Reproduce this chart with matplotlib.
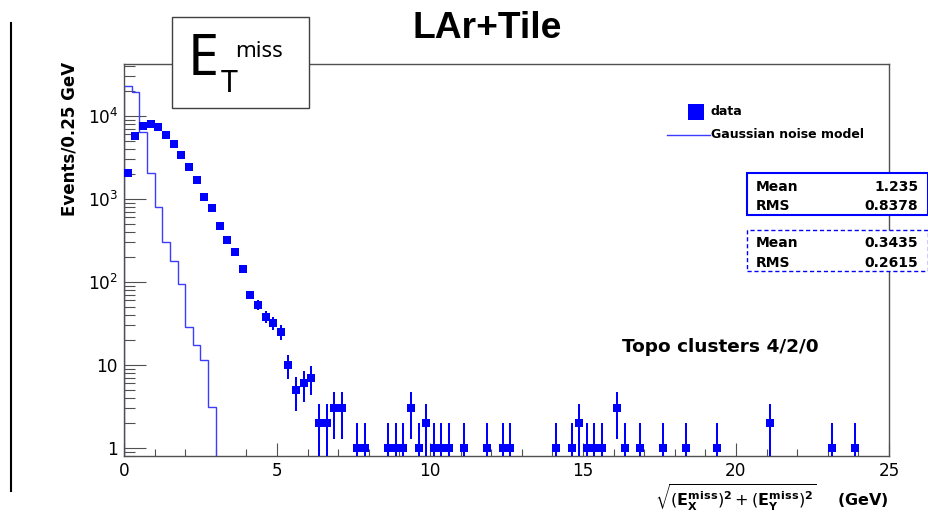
import matplotlib
matplotlib.use("Agg")
import matplotlib.pyplot as plt
import numpy as np
from matplotlib.patches import Rectangle
from matplotlib.lines import Line2D
from matplotlib.ticker import FixedLocator, FixedFormatter, LogLocator, NullFormatter, MultipleLocator

# ---------------- data ----------------
data_centers = [0.125, 0.375, 0.625, 0.875, 1.125, 1.375, 1.625, 1.875, 2.125, 2.375,
                2.625, 2.875, 3.125, 3.375, 3.625, 3.875, 4.125, 4.375, 4.625, 4.875,
                5.125, 5.375, 5.625, 5.875, 6.125, 6.375, 6.625, 6.875, 7.125, 7.625,
                7.875, 8.625, 8.875, 9.125, 9.375, 9.625, 9.875, 10.125, 10.375, 10.625,
                11.125, 11.875, 12.375, 12.625, 14.125, 14.625, 14.875, 15.125, 15.375, 15.625,
                16.125, 16.375, 16.875, 17.625, 18.375, 19.375, 21.125, 23.125, 23.875]
data_counts = [2040, 5700, 7600, 8000, 7400, 5900, 4560, 3330, 2400, 1700,
               1050, 770, 475, 320, 228, 142, 70, 53, 38, 32,
               25, 10, 5, 6, 7, 2, 2, 3, 3, 1,
               1, 1, 1, 1, 3, 1, 2, 1, 1, 1,
               1, 1, 1, 1, 1, 1, 2, 1, 1, 1,
               3, 1, 1, 1, 1, 1, 2, 1, 1]
bin_half_width = 0.125

model_edges = [0.0, 0.25, 0.5, 0.75, 1.0, 1.25, 1.5, 1.75, 2.0, 2.25, 2.5, 2.75, 3.0]
model_counts = [22600, 19200, 6450, 2040, 795, 303, 178, 94, 28.5, 17.3, 11.5, 3.1]

ytick_values = [1, 10, 100, 1000, 10000]
ytick_labels = ["1", "10", r"$10^{2}$", r"$10^{3}$", r"$10^{4}$"]

stats_data = [("Mean", "1.235"), ("RMS", "0.8378")]
stats_model = [("Mean", "0.3435"), ("RMS", "0.2615")]

# ---------------- figure ----------------
plt.rcParams["font.family"] = ["DejaVu Sans"]
W, H = 929, 527
fig = plt.figure(figsize=(W / 100, H / 100), dpi=100)


def fx(px):
    return px / W


def fy(py):
    return 1 - py / H


AX_L, AX_R, AX_T, AX_B = 124, 889, 64, 456
ax = fig.add_axes([fx(AX_L), fy(AX_B), fx(AX_R) - fx(AX_L), fy(AX_T) - fy(AX_B)])

BLUE = "#0000ff"
MODEL_BLUE = "#3c3cff"
FRAME = "#505050"

cnt = np.array(data_counts, dtype=float)
err = np.sqrt(cnt)
err_lo = np.minimum(err, cnt - 1e-3)
ax.set_yscale("log")
ax.errorbar(data_centers, data_counts, yerr=[err_lo, err], xerr=bin_half_width,
            fmt="s", ms=5.6, mew=0, color=BLUE, mfc=BLUE, elinewidth=1.45,
            capsize=0, zorder=3)
ax.stairs(model_counts, model_edges, baseline=0.01, color=MODEL_BLUE, lw=1.0, zorder=2)

ax.set_xlim(0, 25)
ax.set_ylim(0.8, 42000)

ax.xaxis.set_major_locator(MultipleLocator(5))
ax.xaxis.set_minor_locator(MultipleLocator(1))
ax.yaxis.set_major_locator(FixedLocator(ytick_values))
ax.yaxis.set_major_formatter(FixedFormatter(ytick_labels))
ax.yaxis.set_minor_locator(LogLocator(base=10, subs=range(2, 10), numticks=20))
ax.yaxis.set_minor_formatter(NullFormatter())

ax.tick_params(which="both", direction="in", top=False, right=False,
               color=FRAME, width=0.8, labelsize=12.2)
ax.tick_params(axis="y", which="major", length=15.6, pad=4.3)
ax.tick_params(axis="y", which="minor", length=7.9)
ax.tick_params(axis="x", which="major", length=9.6, pad=4.1)
ax.tick_params(axis="x", which="minor", length=4.8)
for s in ax.spines.values():
    s.set_color(FRAME)
    s.set_linewidth(1.0)

# axis labels
ax.set_xlabel(r"$\sqrt{(\mathbf{E}_{\mathbf{X}}^{\mathbf{miss}})^{\mathbf{2}}"
              r" + (\mathbf{E}_{\mathbf{Y}}^{\mathbf{miss}})^{\mathbf{2}}}$    (GeV)",
              fontsize=11.5, fontweight="bold", loc="right")
ax.xaxis.label.set_va("center")
ax.xaxis.set_label_coords(1.0, (AX_B - 498) / (AX_B - AX_T))

ax.set_ylabel("Events/0.25 GeV", fontsize=12, fontweight="bold", loc="top")
ax.yaxis.label.set_va("baseline")
ax.yaxis.set_label_coords((75 - AX_L) / (AX_R - AX_L), (AX_B - 62) / (AX_B - AX_T))

# title
fig.text(fx(487.5), fy(38.3), "LAr+Tile", ha="center", va="baseline",
         fontsize=26.8, fontweight="bold", family="Liberation Sans")

# E_T^miss box
fig.add_artist(Rectangle((fx(172), fy(108)), fx(309) - fx(172), fy(17) - fy(108),
                         transform=fig.transFigure, facecolor="white",
                         edgecolor="#404040", lw=1.0, zorder=5))
fig.text(fx(188), fy(75), "E", ha="left", va="baseline", fontsize=40.3,
         family="Noto Sans", zorder=6)
fig.text(fx(221), fy(92), "T", ha="left", va="baseline", fontsize=22,
         family="Noto Sans", zorder=6)
fig.text(fx(235), fy(57), "miss", ha="left", va="baseline", fontsize=16,
         family="Noto Sans", zorder=6)

# legend
fig.add_artist(Line2D([fx(695.7)], [fy(111.7)], marker="s", ms=11.3, mew=0, color=BLUE,
                      transform=fig.transFigure, zorder=6))
fig.add_artist(Line2D([fx(667), fx(710)], [fy(135), fy(135)], color=MODEL_BLUE,
                      lw=1.0, transform=fig.transFigure, zorder=6))
fig.text(fx(711), fy(111.7), "data", ha="left", va="center", fontsize=9,
         fontweight="bold", zorder=6)
fig.text(fx(711), fy(135), "Gaussian noise model", ha="left", va="center",
         fontsize=9, fontweight="bold", zorder=6)

# stats boxes
fig.add_artist(Rectangle((fx(746.7), fy(215)), fx(928.3) - fx(746.7), fy(173.3) - fy(215),
                         transform=fig.transFigure, facecolor="white",
                         edgecolor=BLUE, lw=1.5, zorder=5))
fig.add_artist(Rectangle((fx(747), fy(271)), fx(928) - fx(747), fy(230) - fy(271),
                         transform=fig.transFigure, facecolor="white",
                         edgecolor=BLUE, lw=1.0, linestyle=(0, (3, 2)), zorder=5))
for rows, ys in ((stats_data, (186.7, 206.0)), (stats_model, (242.7, 263.3))):
    for (name, val), yy in zip(rows, ys):
        fig.text(fx(756), fy(yy), name, ha="left", va="center", fontsize=10,
                 fontweight="bold", zorder=6)
        fig.text(fx(918.3), fy(yy), val, ha="right", va="center", fontsize=10,
                 fontweight="bold", zorder=6)

# annotation
fig.text(fx(622), fy(351.7), "Topo clusters 4/2/0", ha="left", va="baseline",
         fontsize=13.3, fontweight="bold")

# left frame line
fig.add_artist(Line2D([fx(11), fx(11)], [fy(23), fy(491)], color="black", lw=1.5,
                      transform=fig.transFigure))

fig.savefig("out.png", dpi=100)
